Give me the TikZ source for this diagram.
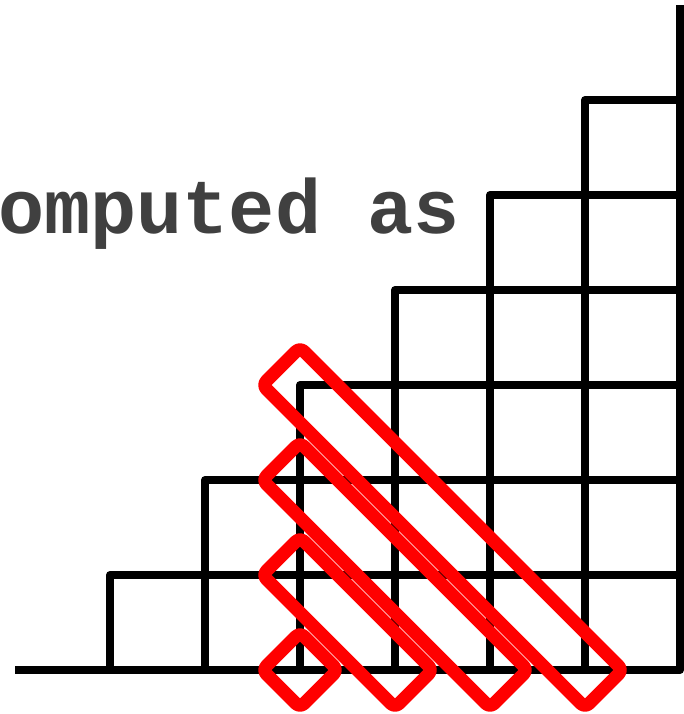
\documentclass[tikz,border=0pt]{standalone}
\usepackage{fontspec}
\newfontfamily\codefont{Liberation Mono}
\usepackage{tikz}
\usetikzlibrary{calc}
\usepackage{xcolor}
\definecolor{txtgray}{RGB}{64,64,64}
\definecolor{boxred}{RGB}{255,0,0}

\begin{document}
\begin{tikzpicture}[x=1cm,y=1cm,
  cell/.style={draw, line width=2.4pt, line join=round},
  diag/.style={draw=boxred, line width=3.9pt, line join=round, rounded corners=0.6mm}]
\useasboundingbox (-1.158,-0.463) rectangle (6.042,7.053);
% staircase of cells
\foreach \i in {0,...,5}{
  \foreach \j in {0,...,\i}{
    \draw[cell] (\i,\j) rectangle ++(1,1);
  }
}
\coordinate (base0) at (-1,0);
\coordinate (base1) at (6,0);
\coordinate (top) at (6,7);
\draw[cell] (base0) -- (base1);
\draw[cell] (base1) -- (top);
\node[anchor=base west, inner sep=0pt, text=txtgray,
  font=\codefont\bfseries\fontsize{23}{27}\selectfont] (lbl) at (-1.18,4.6) {omputed as};
% diagonal groups
\foreach \k in {0,...,3}{
  \coordinate (d\k) at (2,\k);
  \draw[diag, rotate around={-45:(d\k)}] ($(d\k)+(-0.28,-0.28)$) rectangle ++({\k*1.4142+0.56},0.56);
}
\end{tikzpicture}
\end{document}
